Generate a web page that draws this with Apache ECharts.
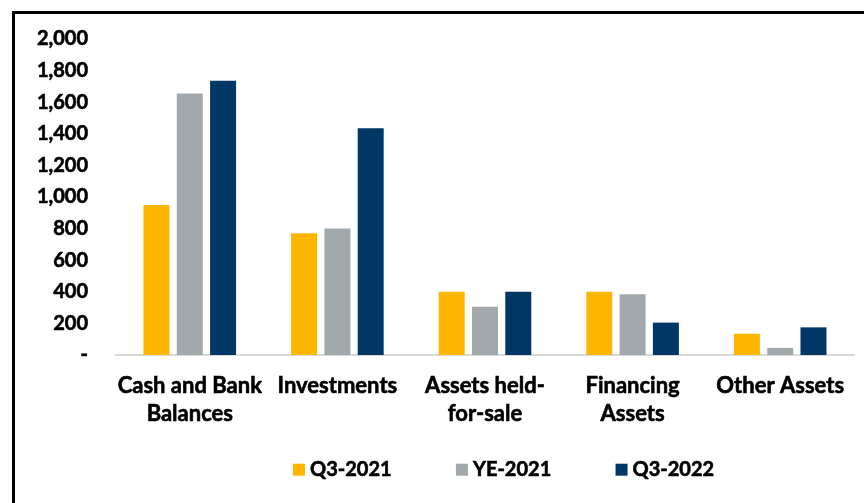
<!DOCTYPE html>
<html><head><meta charset="utf-8">
<script src="https://cdn.jsdelivr.net/npm/echarts@6/dist/echarts.min.js"></script>
<style>html,body{margin:0;padding:0;background:#fff}#c{width:864px;height:503px}</style>
</head><body><div id="c"></div>
<script>
var categories = ['Cash and Bank\nBalances', 'Investments', 'Assets held-\nfor-sale', 'Financing\nAssets', 'Other Assets'];
var seriesNames = ['Q3-2021', 'YE-2021', 'Q3-2022'];
var q3_2021 = [950, 770, 400, 400, 135];
var ye_2021 = [1655, 800, 305, 385, 45];
var q3_2022 = [1735, 1435, 400, 205, 175];
var yTicks = [0, 200, 400, 600, 800, 1000, 1200, 1400, 1600, 1800, 2000];
var colors = ['#FFB600', '#A2A9AD', '#003764'];

var font = 'Lato, "Noto Sans", sans-serif';
var chart = echarts.init(document.getElementById('c'));
var dataSets = [q3_2021, ye_2021, q3_2022];
var heavy = { textBorderColor: '#000', textBorderWidth: 0.6 };
chart.setOption({
  animation: false,
  graphic: [{
    type: 'rect', left: 11, top: 10, z: 100,
    shape: { x: 0, y: 0, width: 900, height: 600 },
    style: { fill: 'none', stroke: '#000', lineWidth: 3 }
  }],
  grid: { left: 116, right: 10, top: 39, bottom: 148 },
  legend: {
    bottom: 18, left: 288,
    itemWidth: 12, itemHeight: 12, itemGap: 64,
    icon: 'rect',
    textStyle: Object.assign({ fontFamily: font, fontWeight: 'bold', fontSize: 20, color: '#000' }, heavy),
    data: seriesNames
  },
  xAxis: {
    type: 'category', data: categories,
    axisTick: { show: false },
    axisLine: { lineStyle: { color: '#D9D9D9', width: 2 } },
    axisLabel: Object.assign({ interval: 0, margin: 17, fontFamily: font, fontWeight: 'bold', fontSize: 22, lineHeight: 28, color: '#000' }, heavy)
  },
  yAxis: {
    type: 'value', min: yTicks[0], max: yTicks[yTicks.length - 1], interval: 200,
    splitLine: { show: false },
    axisLine: { show: false }, axisTick: { show: false },
    axisLabel: Object.assign({
      margin: 28, fontFamily: font, fontWeight: 'bold', fontSize: 20, color: '#000',
      formatter: function (v) { return v === 0 ? '-' : v.toLocaleString('en-US'); }
    }, heavy)
  },
  series: seriesNames.map(function (n, i) {
    return {
      name: n, type: 'bar', data: dataSets[i],
      barWidth: 26, barGap: '28%',
      itemStyle: { color: colors[i] }
    };
  })
});
</script></body></html>
